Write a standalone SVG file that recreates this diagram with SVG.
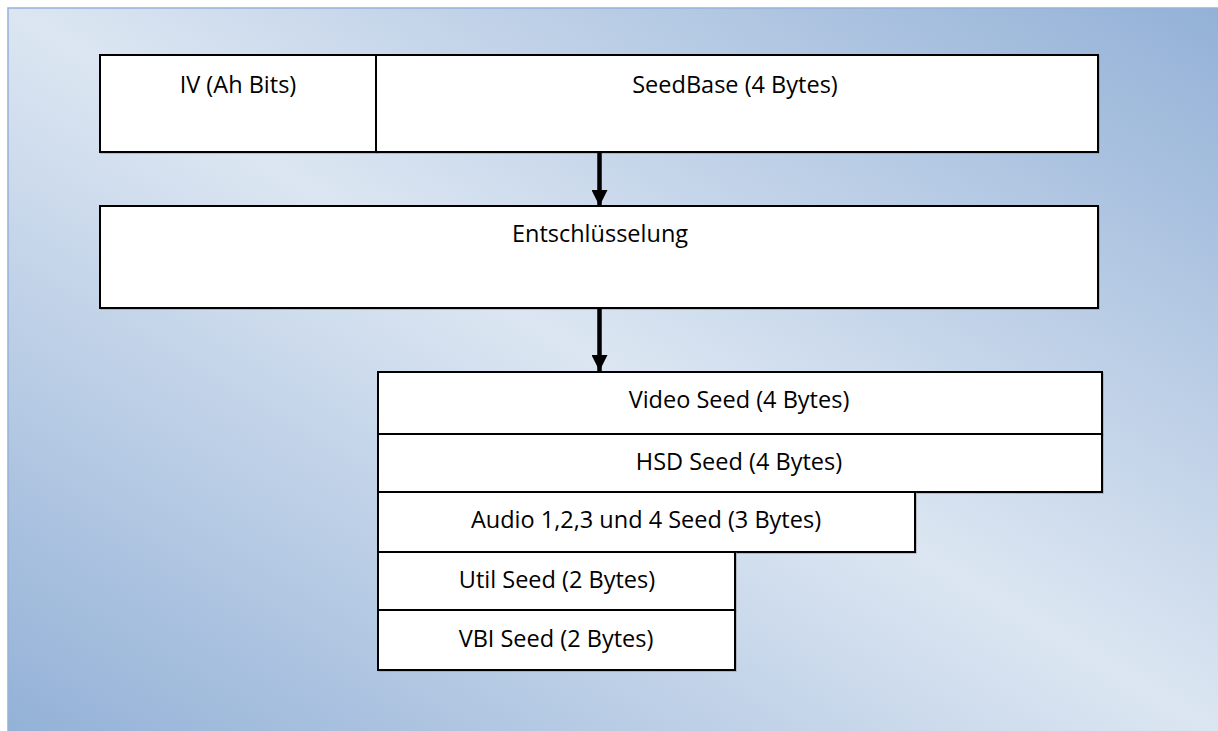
<svg xmlns="http://www.w3.org/2000/svg" width="1218" height="731" viewBox="0 0 1218 731">
  <defs>
    <linearGradient id="bg" x1="1" y1="0" x2="0" y2="1">
      <stop offset="0" stop-color="#93b1d7"/>
      <stop offset="0.5" stop-color="#dce6f2"/>
      <stop offset="1" stop-color="#93b1d7"/>
    </linearGradient>
    <marker id="arrow" viewBox="0 0 16 16" refX="16" refY="8" markerWidth="16" markerHeight="16" markerUnits="userSpaceOnUse" orient="auto">
      <path d="M0,0 L16,8 L0,16 Z" fill="#000"/>
    </marker>
  </defs>
  <style>
    .box { fill: #ffffff; stroke: #000000; stroke-width: 2; }
    .shadow { fill: none; stroke: #8a8a8a; stroke-width: 1.5; opacity: 0.6; }
    .lbl { font-family: "Open Sans", "Liberation Sans", sans-serif; font-size: 23.5px; fill: #000000; text-anchor: middle; }
    .conn { stroke: #000000; stroke-width: 4.5; fill: none; }
  </style>
  <rect x="0" y="0" width="1218" height="731" fill="#ffffff"/>
  <rect x="8" y="8" width="1212" height="725" fill="url(#bg)" stroke="#95b3d7" stroke-width="1.5"/>

  <g id="iv">
    <rect class="shadow" x="101" y="56" width="276" height="97"/>
    <rect class="box" x="100" y="55" width="276" height="97"/>
    <text class="lbl" x="238" y="93">IV (Ah Bits)</text>
  </g>
  <g id="seedbase">
    <rect class="shadow" x="377" y="56" width="722" height="97"/>
    <rect class="box" x="376" y="55" width="722" height="97"/>
    <text class="lbl" x="735" y="93">SeedBase (4 Bytes)</text>
  </g>
  <g id="entschluesselung">
    <rect class="shadow" x="101" y="207" width="998" height="102"/>
    <rect class="box" x="100" y="206" width="998" height="102"/>
    <text class="lbl" x="600" y="242">Entschlüsselung</text>
  </g>
  <g id="video-seed">
    <rect class="shadow" x="379" y="373" width="724" height="62"/>
    <rect class="box" x="378" y="372" width="724" height="62"/>
    <text class="lbl" x="739" y="408">Video Seed (4 Bytes)</text>
  </g>
  <g id="hsd-seed">
    <rect class="shadow" x="379" y="435" width="724" height="58"/>
    <rect class="box" x="378" y="434" width="724" height="58"/>
    <text class="lbl" x="739" y="470">HSD Seed (4 Bytes)</text>
  </g>
  <g id="audio-seed">
    <rect class="shadow" x="379" y="493" width="537" height="60"/>
    <rect class="box" x="378" y="492" width="537" height="60"/>
    <text class="lbl" x="646" y="528">Audio 1,2,3 und 4 Seed (3 Bytes)</text>
  </g>
  <g id="util-seed">
    <rect class="shadow" x="379" y="553" width="357" height="58"/>
    <rect class="box" x="378" y="552" width="357" height="58"/>
    <text class="lbl" x="557" y="588">Util Seed (2 Bytes)</text>
  </g>
  <g id="vbi-seed">
    <rect class="shadow" x="379" y="611" width="357" height="60"/>
    <rect class="box" x="378" y="610" width="357" height="60"/>
    <text class="lbl" x="556" y="647">VBI Seed (2 Bytes)</text>
  </g>

  <g id="connectors">
    <line class="conn" x1="599.5" y1="153" x2="599.5" y2="206" marker-end="url(#arrow)"/>
    <line class="conn" x1="599.5" y1="309" x2="599.5" y2="371" marker-end="url(#arrow)"/>
  </g>
</svg>
